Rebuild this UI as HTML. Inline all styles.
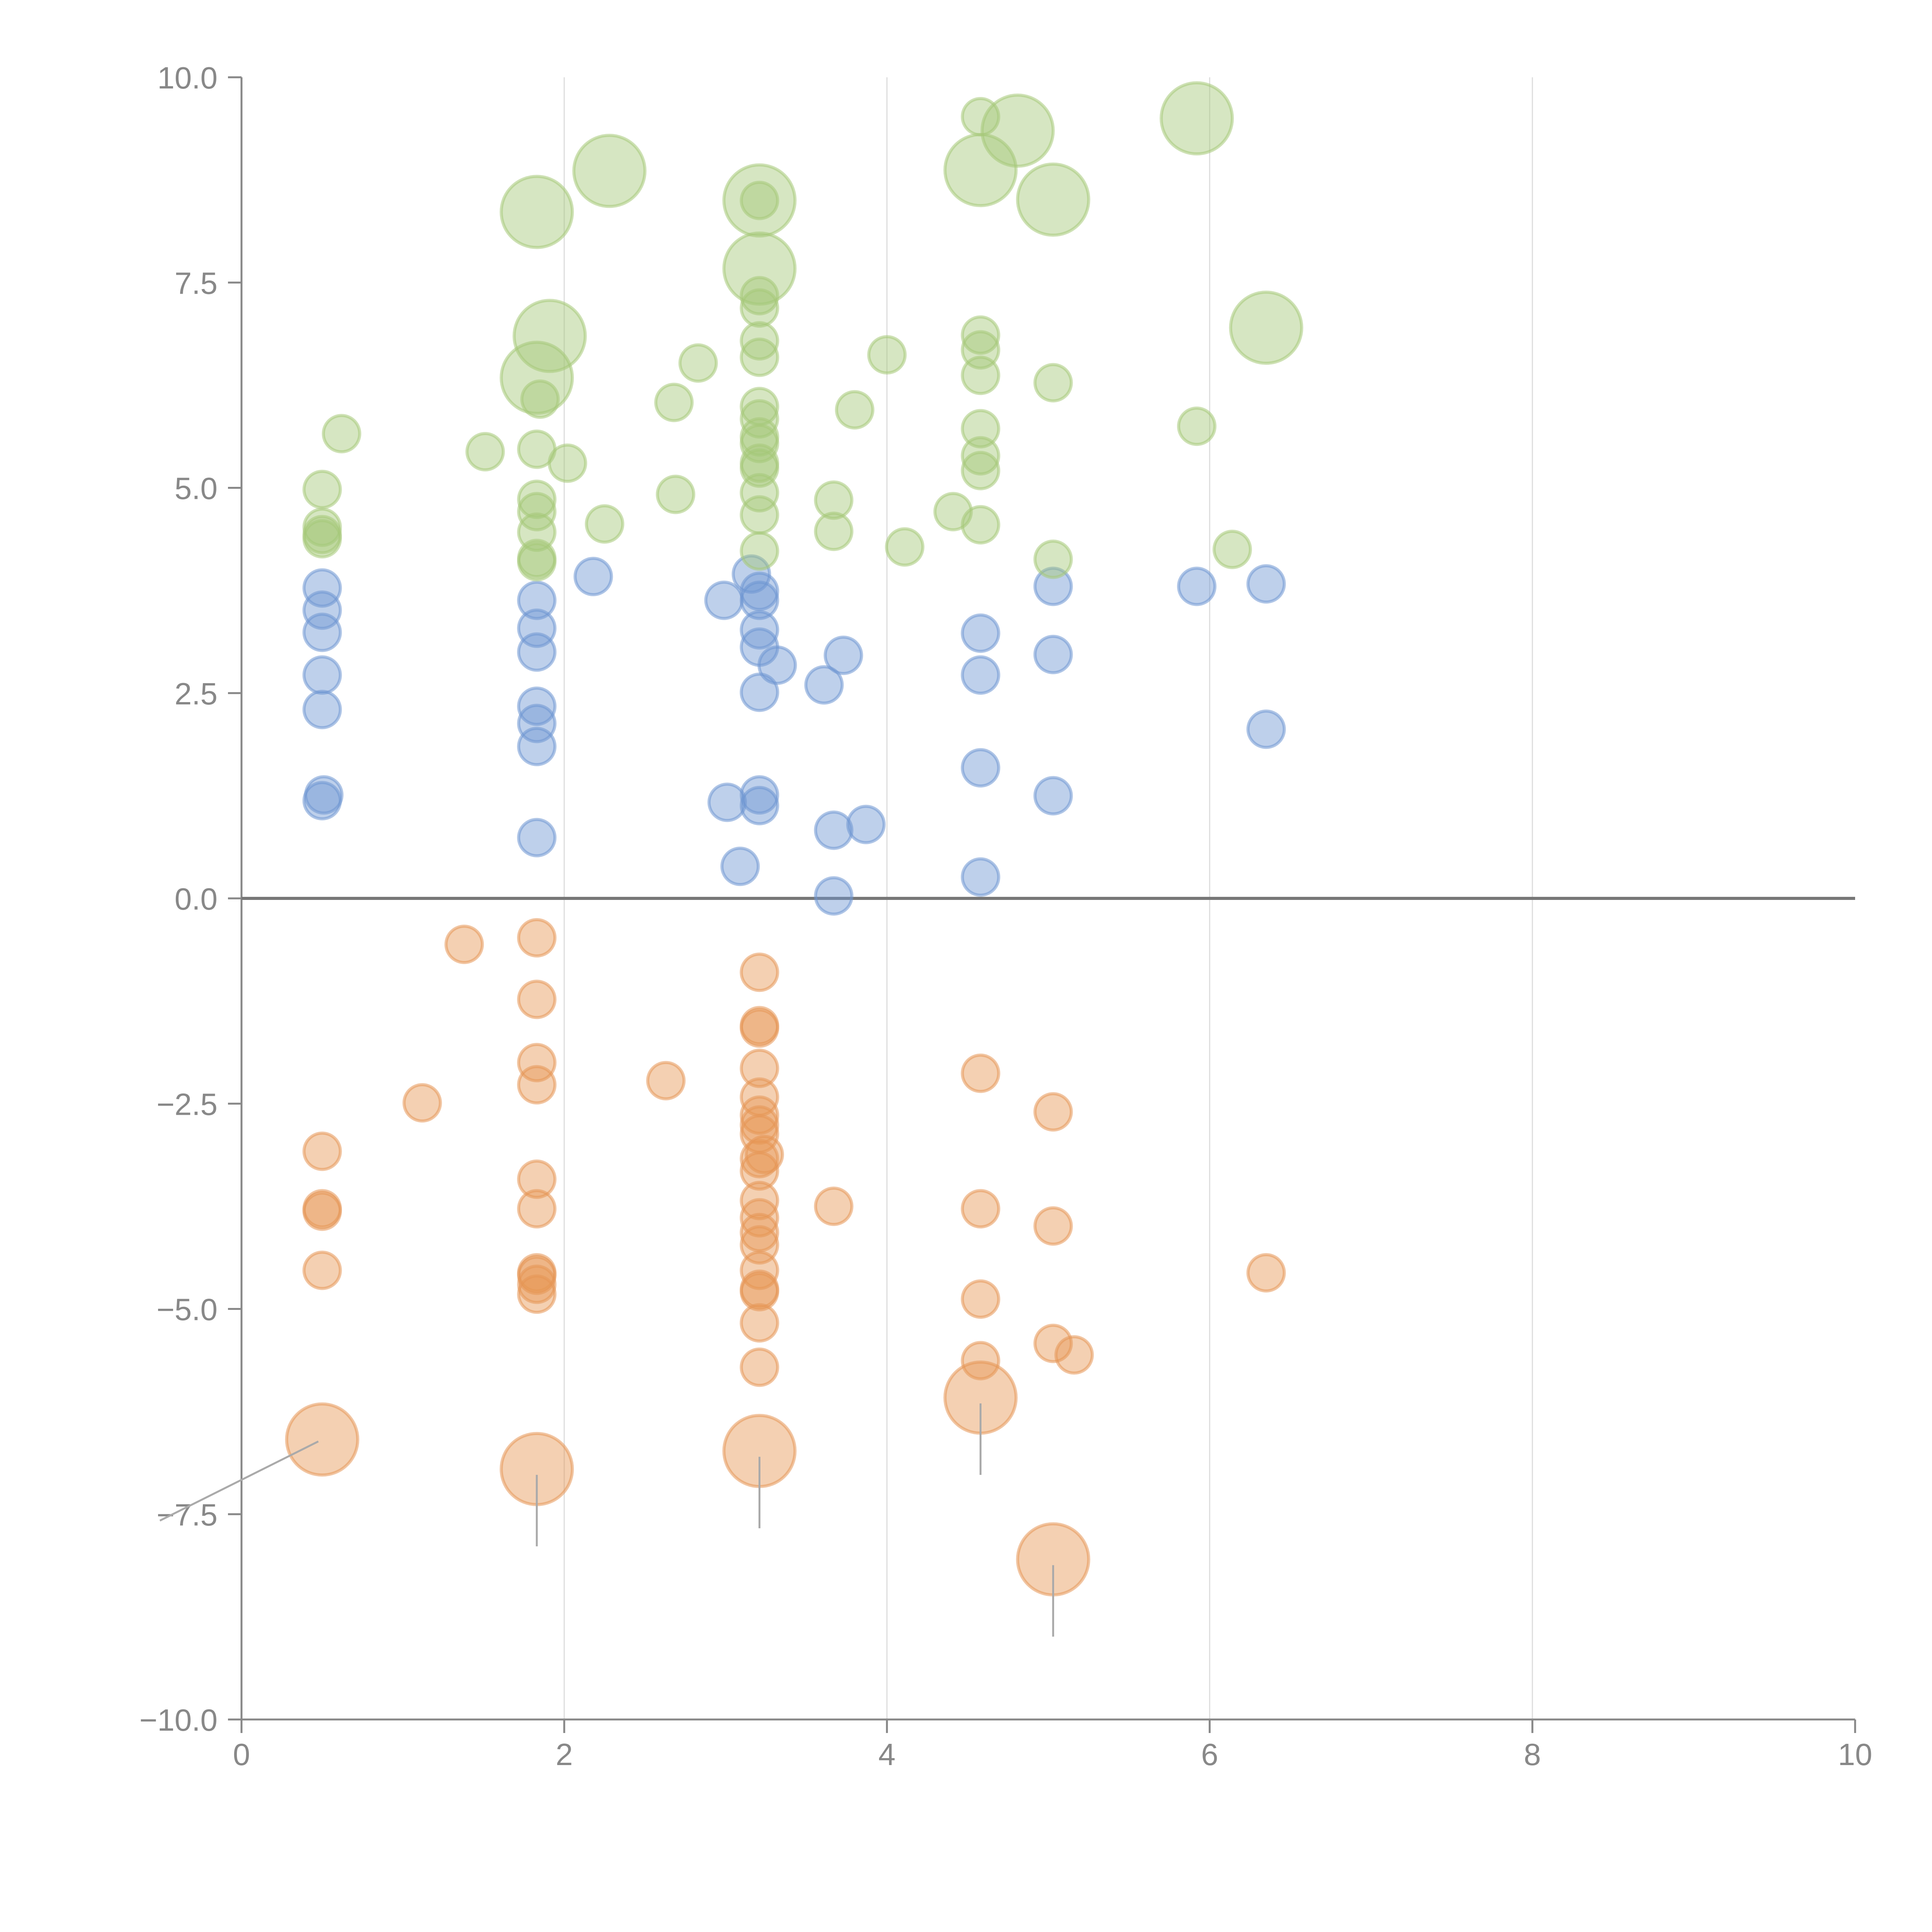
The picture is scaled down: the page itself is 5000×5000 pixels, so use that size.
<!DOCTYPE html>
<html><head><meta charset="utf-8"><style>
html,body{margin:0;padding:0;background:#fff;}
svg{display:block;}
text{font-family:"Liberation Sans",sans-serif;fill:#888;}
</style></head><body>
<svg id="chart" width="5000" height="5000" viewBox="0 0 5000 5000" xmlns="http://www.w3.org/2000/svg">
<g id="grid"></g>
<g id="axes"></g>
<g id="marks"></g>
</svg>
<script>
const xTicks=[0,2,4,6,8,10];
const yTicks=[-10,-7.5,-5,-2.5,0,2.5,5,7.5,10];
const yTickLabels=["\u221210.0","\u22127.5","\u22125.0","\u22122.5","0.0","2.5","5.0","7.5","10.0"];
const greenX=[0.50,0.50,0.50,0.50,0.62,1.51,1.83,2.28,1.83,1.91,1.83,1.83,1.83,1.83,1.83,1.83,1.85,2.02,2.25,2.68,2.69,2.83,3.21,3.21,3.21,3.21,3.21,3.21,3.21,3.21,3.21,3.21,3.21,3.21,3.21,3.21,3.21,3.21,3.80,3.67,3.67,4.00,4.11,4.41,4.58,4.58,4.81,5.03,4.58,4.58,4.58,4.58,4.58,4.58,4.58,5.03,5.03,5.92,5.92,6.14,6.35];
const greenY=[4.98,4.52,4.38,4.43,5.66,5.44,8.36,8.86,6.34,6.85,5.47,4.86,4.71,4.46,4.14,4.10,6.08,5.30,4.56,6.04,4.92,6.52,8.50,7.67,8.50,7.34,7.19,6.79,6.59,5.99,5.84,5.62,5.24,4.94,4.67,4.23,5.54,5.30,5.95,4.85,4.47,6.62,4.28,4.71,8.87,9.52,9.35,8.51,6.86,6.68,6.37,5.72,5.39,5.21,4.55,6.28,4.13,9.50,5.75,4.25,6.95];
const greenSize=[1,1,1,1,1,1,2,2,2,2,1,1,1,1,1,1,1,1,1,1,1,1,2,2,1,1,1,1,1,1,1,1,1,1,1,1,1,1,1,1,1,1,1,1,2,1,2,2,1,1,1,1,1,1,1,1,1,2,1,1,2];
const blueX=[0.50,0.50,0.50,0.50,0.50,0.51,0.50,1.83,1.83,1.83,1.83,1.83,1.83,1.83,2.18,2.99,3.09,3.01,3.16,3.21,3.21,3.21,3.21,3.21,3.21,3.21,3.32,3.61,3.73,3.67,3.87,3.67,4.58,4.58,4.58,4.58,5.03,5.03,5.03,5.92,6.35,6.35];
const blueY=[3.78,3.51,3.24,2.72,2.30,1.26,1.19,3.63,3.29,3.00,2.34,2.13,1.85,0.74,3.92,3.63,0.39,1.17,3.95,3.74,3.63,3.27,3.06,2.51,1.26,1.13,2.84,2.60,2.96,0.83,0.90,0.03,3.23,2.72,1.59,0.26,3.80,2.97,1.25,3.80,3.83,2.06];
const orangeX=[1.38,1.83,1.83,1.83,1.83,1.12,2.63,0.50,0.50,0.50,0.50,1.83,1.83,1.83,1.83,1.83,1.83,3.21,3.21,3.21,3.21,3.21,3.21,3.21,3.21,3.21,3.24,3.21,3.21,3.21,3.21,3.21,3.21,3.21,3.21,3.21,3.21,3.67,4.58,4.58,4.58,4.58,5.03,5.03,5.03,5.16,6.35,0.50,1.83,3.21,4.58,5.03];
const orangeY=[-0.56,-0.48,-1.23,-2.00,-2.27,-2.49,-2.22,-3.08,-3.78,-3.81,-4.53,-3.42,-3.78,-4.56,-4.59,-4.70,-4.82,-0.90,-1.55,-1.58,-2.07,-2.42,-2.64,-2.76,-2.87,-3.17,-3.12,-3.32,-3.68,-3.89,-4.07,-4.22,-4.53,-4.76,-4.79,-5.17,-5.71,-3.75,-2.13,-3.78,-4.88,-5.63,-2.60,-3.99,-5.42,-5.56,-4.56,-6.59,-6.95,-6.73,-6.08,-8.05];
const orangeSize=[1,1,1,1,1,1,1,1,1,1,1,1,1,1,1,1,1,1,1,1,1,1,1,1,1,1,1,1,1,1,1,1,1,1,1,1,1,1,1,1,1,1,1,1,1,1,1,2,2,2,2,2];

const NS="http://www.w3.org/2000/svg";
const X0=625,X1=4801,Y0=4450,Y1=200;
function sx(v){return X0+(v-0)/(10-0)*(X1-X0);}
function sy(v){return Y0-(v+10)/20*(Y0-Y1);}
function rad(s){return s===2?92:47;}
function mk(tag,attrs,parent){const e=document.createElementNS(NS,tag);for(const k in attrs)e.setAttribute(k,attrs[k]);parent.appendChild(e);return e;}
const grid=document.getElementById('grid'),axes=document.getElementById('axes'),marks=document.getElementById('marks');

xTicks.forEach(t=>{
  if(t>0&&t<10){const l=mk('line',{x1:sx(t),x2:sx(t),y1:Y1,y2:Y0,stroke:'#ddd','stroke-width':3},grid);
  
  }
  const tk=mk('line',{x1:sx(t),x2:sx(t),y1:Y0,y2:Y0+35,stroke:'#888','stroke-width':5},axes);
  
  
  const tx=mk('text',{x:sx(t),y:Y0+118,'text-anchor':'middle','font-size':80},axes);
  tx.textContent=String(t);
  
  
});
yTicks.forEach((t,i)=>{
  const tk=mk('line',{x1:X0-35,x2:X0,y1:sy(t),y2:sy(t),stroke:'#888','stroke-width':5},axes);
  
  
  const tx=mk('text',{x:X0-62,y:sy(t)+29,'text-anchor':'end','font-size':80},axes);
  tx.textContent=yTickLabels[i];
  
  
});
const ya=mk('line',{x1:X0,x2:X0,y1:Y1,y2:Y0,stroke:'#888','stroke-width':5},axes);


const xa=mk('line',{x1:X0,x2:X1,y1:Y0,y2:Y0,stroke:'#888','stroke-width':5},axes);


const zl=mk('line',{x1:X0,x2:X1,y1:sy(0),y2:sy(0),stroke:'#777','stroke-width':8},axes);



function series(xs,ys,ss,fill,stroke,name){
  xs.forEach((x,i)=>{
    const c=mk('circle',{cx:sx(x),cy:sy(ys[i]),r:rad(ss[i]),fill:fill,stroke:stroke,'stroke-width':8},marks);
    
    
  });
}
series(blueX,blueY,blueX.map(()=>1),'rgba(110,150,210,0.45)','rgba(110,150,210,0.55)','blue-bubble');
series(orangeX,orangeY,orangeSize,'rgba(230,150,85,0.45)','rgba(230,150,85,0.55)','orange-bubble');
series(greenX,greenY,greenSize,'rgba(165,200,120,0.45)','rgba(165,200,120,0.55)','green-bubble');

// leader lines for large orange bubbles
orangeX.forEach((x,i)=>{
  if(orangeSize[i]!==2)return;
  let a;
  if(x<1){a={x1:sx(x)-10,y1:sy(orangeY[i])+5,x2:sx(x)-420,y2:sy(orangeY[i])+210};}
  else{a={x1:sx(x),y1:sy(orangeY[i])+15,x2:sx(x),y2:sy(orangeY[i])+200};}
  const l=mk('line',Object.assign(a,{stroke:'#aaa','stroke-width':5}),marks);
  
  
});
</script>
</body></html>
